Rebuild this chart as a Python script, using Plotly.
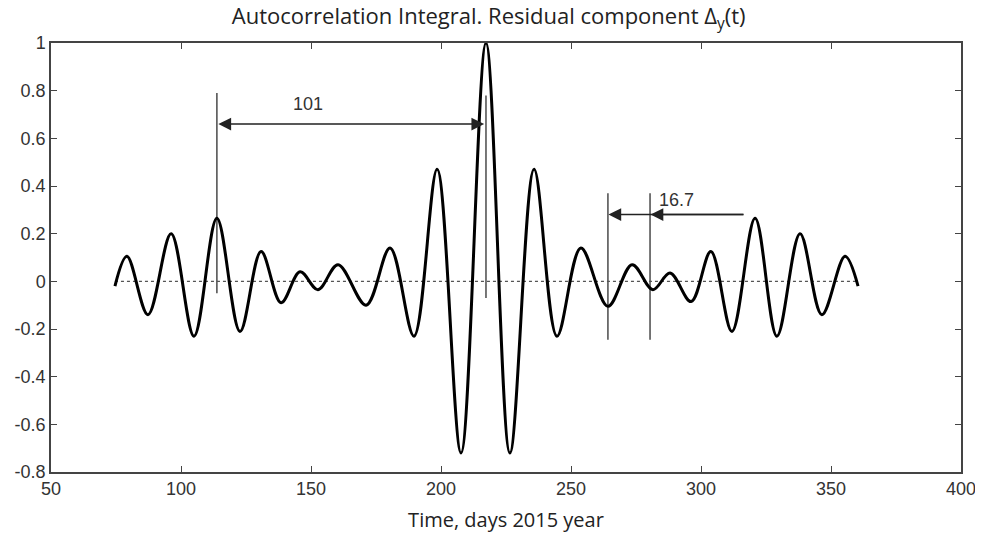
import plotly.graph_objects as go

# Extrema (and end points) of the autocorrelation curve
x_days = [74.6, 79.2, 87.3, 96.2, 105.0, 113.8, 122.7, 130.8, 138.5, 145.8, 152.7,
          160.4, 171.2, 180.4, 189.6, 198.5, 207.7, 217.3, 226.5, 235.8, 244.6,
          253.8, 264.2, 273.5, 281.5, 288.1, 296.2, 303.8, 311.9, 320.8, 329.2,
          338.1, 346.5, 355.4, 360.4]
acf_values = [-0.02, 0.105, -0.14, 0.20, -0.23, 0.265, -0.21, 0.125, -0.09, 0.04, -0.035,
              0.07, -0.10, 0.14, -0.23, 0.47, -0.72, 1.0, -0.72, 0.47, -0.23,
              0.14, -0.105, 0.07, -0.035, 0.035, -0.085, 0.125, -0.21, 0.265, -0.23,
              0.20, -0.14, 0.105, -0.02]

# Marker lines: x, top and bottom values
marker_x = [113.8, 217.3, 264.2, 280.4]
marker_top = [0.79, 0.78, 0.37, 0.37]
marker_bottom = [-0.05, -0.07, -0.245, -0.245]

# Period annotations
period_labels = ["101", "16.7"]
period_label_x = [148.8, 290.4]
period_label_y = [0.745, 0.34]

x_ticks = [50, 100, 150, 200, 250, 300, 350, 400]
y_ticks = [1, 0.8, 0.6, 0.4, 0.2, 0, -0.2, -0.4, -0.6, -0.8]
y_tick_text = ["1", "0.8", "0.6", "0.4", "0.2", "0", "-0.2", "-0.4", "-0.6", "-0.8"]

TICK_FONT = dict(family="Liberation Sans, Arial", size=18, color="#333")
LABEL_FONT = dict(family="Open Sans, Noto Sans", size=20, color="#222")

fig = go.Figure()

# zero dotted line
fig.add_trace(go.Scatter(x=[x_days[0], x_days[-1]], y=[0, 0], mode="lines",
                         line=dict(color="#555", width=1.2, dash="dot"),
                         hoverinfo="skip", showlegend=False))

# marker vertical lines
for mx, t, b in zip(marker_x, marker_top, marker_bottom):
    fig.add_trace(go.Scatter(x=[mx, mx], y=[b, t], mode="lines",
                             line=dict(color="#555", width=1.6),
                             hoverinfo="skip", showlegend=False))

fig.add_trace(go.Scatter(x=x_days, y=acf_values, mode="lines",
                         line=dict(color="black", width=3, shape="spline", smoothing=1.0),
                         showlegend=False))

arrow_style = dict(showarrow=True, text="", axref="x", ayref="y", xref="x", yref="y",
                   arrowhead=2, arrowsize=1.7, arrowwidth=1.5, arrowcolor="#222")

fig.add_annotation(x=216.6, y=0.66, ax=113.8, ay=0.66, arrowside="end+start",
                   startarrowhead=2, startarrowsize=1.7, **arrow_style)
fig.add_annotation(x=264.4, y=0.28, ax=316.9, ay=0.28, **arrow_style)
fig.add_annotation(x=280.6, y=0.28, ax=316.9, ay=0.28, **arrow_style)

for lbl, lx, ly in zip(period_labels, period_label_x, period_label_y):
    fig.add_annotation(x=lx, y=ly, text=lbl, showarrow=False,
                       font=dict(family="Liberation Sans, Arial", size=18, color="#333"))

# The page body adds an 8px offset, so the figure is sized to fill the window from there
fig.update_layout(
    width=975, height=536,
    margin=dict(l=43, r=22, t=35, b=72),
    paper_bgcolor="white", plot_bgcolor="white",
    title=dict(text="Autocorrelation Integral. Residual component Δ<sub>y</sub>(t)",
               x=0.493, xanchor="center", y=0.998, yanchor="top",
               font=dict(family="Open Sans, Noto Sans", size=22, color="#222")),
    xaxis=dict(range=[50, 400], tickvals=x_ticks, ticks="inside", ticklen=6,
               tickcolor="#444", showline=True, linecolor="#444", linewidth=1.5,
               mirror="ticks", showgrid=False, zeroline=False, automargin=False,
               tickfont=TICK_FONT,
               title=dict(text="Time, days 2015 year", font=LABEL_FONT)),
    yaxis=dict(range=[-0.8, 1], tickvals=y_ticks, ticktext=y_tick_text, ticks="inside",
               ticklen=6, tickcolor="#444", showline=True, linecolor="#444", linewidth=1.5,
               mirror="ticks", showgrid=False, zeroline=False, automargin=False,
               tickfont=TICK_FONT),
)

fig.write_html("out.html")
